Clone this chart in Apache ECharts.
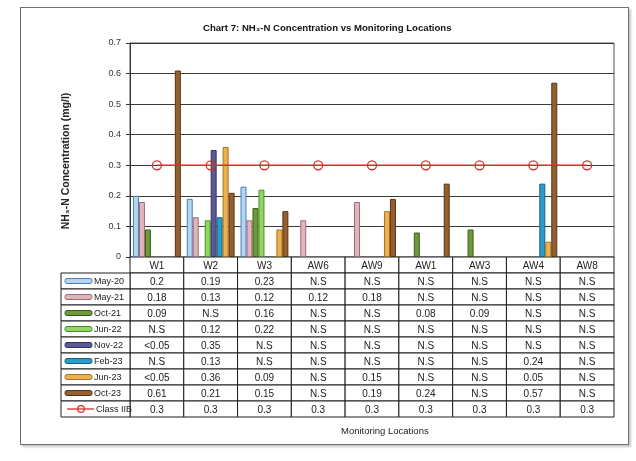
<!DOCTYPE html>
<html><head><meta charset="utf-8">
<script src="https://cdn.jsdelivr.net/npm/echarts@6/dist/echarts.min.js"></script>
<style>
html,body{margin:0;padding:0;background:#fff;}
#wrap{position:relative;width:636px;height:461px;overflow:hidden;}
#frame{position:absolute;left:20px;top:7px;width:607px;height:436px;border:1px solid #6f6f6f;box-shadow:2px 2px 2px #c8c8c8;}
#chart{position:absolute;left:0;top:0;width:636px;height:461px;}
</style></head><body>
<div id="wrap"><div id="frame"></div><div id="chart"></div></div>
<script>
// ---- data ----
const categories = ['W1','W2','W3','AW6','AW9','AW1','AW3','AW4','AW8'];
const seriesNames = ['May-20','May-21','Oct-21','Jun-22','Nov-22','Feb-23','Jun-23','Oct-23'];
const may20 = ['0.2','0.19','0.23','N.S','N.S','N.S','N.S','N.S','N.S'];
const may21 = ['0.18','0.13','0.12','0.12','0.18','N.S','N.S','N.S','N.S'];
const oct21 = ['0.09','N.S','0.16','N.S','N.S','0.08','0.09','N.S','N.S'];
const jun22 = ['N.S','0.12','0.22','N.S','N.S','N.S','N.S','N.S','N.S'];
const nov22 = ['<0.05','0.35','N.S','N.S','N.S','N.S','N.S','N.S','N.S'];
const feb23 = ['N.S','0.13','N.S','N.S','N.S','N.S','N.S','0.24','N.S'];
const jun23 = ['<0.05','0.36','0.09','N.S','0.15','N.S','N.S','0.05','N.S'];
const oct23 = ['0.61','0.21','0.15','N.S','0.19','0.24','N.S','0.57','N.S'];
const lineName = 'Class IIB';
const classIIB = ['0.3','0.3','0.3','0.3','0.3','0.3','0.3','0.3','0.3'];
const yMin = 0, yMax = 0.7, yStep = 0.1;

// ---- styles ----
const barFill = ['#b4d6f2','#e2b5bc','#6e9a3c','#93d65f','#5b5997','#2a9bcb','#efb14f','#965f2f'];
const barEdge = ['#4f7fae','#9a6b76','#3b591d','#4c8b2d','#34335e','#17607f','#a7731c','#553414'];
const lineColor = '#e0282a';
const FONT = '"Liberation Sans", Arial, sans-serif';

const seriesText = [may20, may21, oct21, jun22, nov22, feb23, jun23, oct23];
const toNum = s => { const v = parseFloat(s); return isNaN(v) ? null : v; };

// table cells
const rowKeys = ['hdr'].concat(seriesNames, [lineName]);
const tableRows = [categories].concat(seriesText, [classIIB]);
const tableCells = [];
tableRows.forEach((row, r) => row.forEach((txt, c) => tableCells.push({value: [c, r], txt: txt})));
const legendRows = seriesNames.concat([lineName]);

const series = [];
seriesText.forEach((arr, i) => {
  series.push({
    type: 'bar', name: seriesNames[i], xAxisIndex: 0, yAxisIndex: 0,
    data: arr.map(toNum),
    barGap: '0%', barCategoryGap: '11%',
    itemStyle: {color: barFill[i], borderColor: barEdge[i], borderWidth: 1},
    z: 2
  });
});
series.push({
  type: 'line', name: lineName, xAxisIndex: 0, yAxisIndex: 0,
  data: classIIB.map(toNum),
  symbol: 'circle', symbolSize: 9,
  itemStyle: {color: 'rgba(255,255,255,0)', borderColor: lineColor, borderWidth: 1.3},
  lineStyle: {color: lineColor, width: 1.5},
  z: 5
});
// data table
series.push({
  type: 'custom', xAxisIndex: 1, yAxisIndex: 1,
  data: tableCells.map(d => d.value),
  renderItem: function (params, api) {
    const p = api.coord([api.value(0), api.value(1)]);
    const s = api.size([1, 1]);
    const txt = tableCells[params.dataIndex].txt;
    return {type: 'group', children: [
      {type: 'rect', shape: {x: p[0] - s[0] / 2, y: p[1] - s[1] / 2, width: s[0], height: s[1]},
       style: {fill: '#fff', stroke: '#1e1e1e', lineWidth: 1}},
      {type: 'text', x: p[0], y: p[1] + 1,
       style: {text: txt, align: 'center', verticalAlign: 'middle', fill: '#222', font: '10px ' + FONT}}
    ]};
  },
  z: 1
});
// legend column of table
series.push({
  type: 'custom', xAxisIndex: 2, yAxisIndex: 2,
  data: legendRows.map((n, i) => [0, i]),
  renderItem: function (params, api) {
    const i = params.dataIndex;
    const p = api.coord([0, api.value(1)]);
    const s = api.size([1, 1]);
    const x0 = p[0] - s[0] / 2, y0 = p[1] - s[1] / 2;
    const kids = [
      {type: 'rect', shape: {x: x0, y: y0, width: s[0], height: s[1]},
       style: {fill: '#fff', stroke: '#1e1e1e', lineWidth: 1}}
    ];
    let tx;
    if (i < seriesNames.length) {
      kids.push({type: 'rect', shape: {x: x0 + 4, y: p[1] - 2.5, width: 27, height: 5, r: 2},
        style: {fill: barFill[i], stroke: barEdge[i], lineWidth: 1}});
      tx = x0 + 33;
    } else {
      kids.push({type: 'line', shape: {x1: x0 + 6, y1: p[1], x2: x0 + 33, y2: p[1]},
        style: {stroke: lineColor, lineWidth: 1.3}});
      kids.push({type: 'circle', shape: {cx: x0 + 20, cy: p[1], r: 3.3},
        style: {fill: 'none', stroke: lineColor, lineWidth: 1.2}});
      tx = x0 + 35;
    }
    kids.push({type: 'text', x: tx, y: p[1] + 1,
      style: {text: legendRows[i], align: 'left', verticalAlign: 'middle', fill: '#222', font: '9px ' + FONT}});
    return {type: 'group', children: kids};
  },
  z: 1
});

const option = {
  animation: false,
  backgroundColor: 'transparent',
  textStyle: {fontFamily: FONT},
  title: [
    {text: 'Chart 7: NH\u2083-N Concentration vs Monitoring Locations', left: 198, top: 18,
     textStyle: {fontSize: 9.6, fontWeight: 'bold', color: '#141414', fontFamily: FONT}},
    {text: 'Monitoring Locations', left: 336, top: 421,
     textStyle: {fontSize: 9.5, fontWeight: 'normal', color: '#222', fontFamily: FONT}}
  ],
  legend: {show: false},
  grid: [
    {left: 130, top: 43, width: 484, height: 214, show: true, borderColor: '#555', borderWidth: 1, backgroundColor: 'transparent'},
    {left: 130, top: 257, width: 484, height: 160},
    {left: 61, top: 273, width: 69, height: 144}
  ],
  xAxis: [
    {type: 'category', gridIndex: 0, data: categories, boundaryGap: true,
     axisLine: {show: true, lineStyle: {color: '#222'}}, axisTick: {show: false}, axisLabel: {show: false}, splitLine: {show: false}},
    {type: 'category', gridIndex: 1, data: categories, show: false},
    {type: 'category', gridIndex: 2, data: [''], show: false}
  ],
  yAxis: [
    {type: 'value', gridIndex: 0, min: yMin, max: yMax, interval: yStep,
     axisLine: {show: true, lineStyle: {color: '#333'}},
     axisTick: {show: true, length: 4, lineStyle: {color: '#333'}},
     axisLabel: {fontSize: 9, color: '#333', margin: 9, formatter: v => v === 0 ? '0' : v.toFixed(1)},
     splitLine: {show: true, lineStyle: {color: '#3a3a3a', width: 1}},
     name: 'NH\u2083-N Concentration (mg/l)', nameLocation: 'middle', nameGap: 58, nameRotate: 90,
     nameTextStyle: {fontSize: 10.5, fontWeight: 'bold', color: '#222', padding: [0, 22, 0, 0]}},
    {type: 'category', gridIndex: 1, data: rowKeys, inverse: true, show: false},
    {type: 'category', gridIndex: 2, data: legendRows, inverse: true, show: false}
  ],
  series: series
};
const chart = echarts.init(document.getElementById('chart'), null, {renderer: 'canvas'});
chart.setOption(option);
</script>
</body></html>
